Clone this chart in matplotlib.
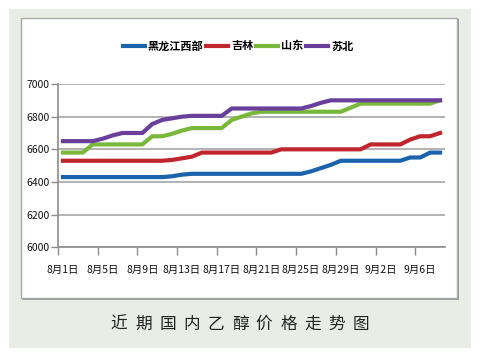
import matplotlib
matplotlib.use("Agg")
import matplotlib.pyplot as plt
from matplotlib.patches import Rectangle
from matplotlib.ticker import FixedLocator

plt.rcParams['font.family'] = ['Noto Sans CJK SC', 'DejaVu Sans']

# 数据 (8月1日 - 9月8日, 每天一个点)
heilongjiang = [6430] * 11 + [6435, 6445] + [6450] * 12 + [6465, 6485, 6505] \
    + [6530] * 7 + [6550, 6550, 6580, 6580]
jilin = [6530] * 11 + [6535, 6545, 6555] + [6580] * 8 + [6600] * 9 \
    + [6630] * 4 + [6660, 6680, 6680, 6700]
shandong = [6580] * 3 + [6630] * 6 + [6680, 6680, 6695, 6715] + [6730] * 4 \
    + [6780, 6800, 6820] + [6830] * 9 + [6855] + [6880] * 8 + [6900]
subei = [6650] * 4 + [6665, 6685] + [6700] * 3 + [6755, 6780, 6790, 6800] \
    + [6805] * 4 + [6850] * 8 + [6865, 6885] + [6900] * 12

series_names = ["黑龙江西部", "吉林", "山东", "苏北"]
series_colors = ["#1c63ae", "#c1262f", "#79b83b", "#6a3f9c"]

tick_labels = ["8月1日", "8月5日", "8月9日", "8月13日", "8月17日",
               "8月21日", "8月25日", "8月29日", "9月2日", "9月6日"]
y_ticks = [6000, 6200, 6400, 6600, 6800, 7000]
title = "近期国内乙醇价格走势图"

W, H = 483, 357
fig = plt.figure(figsize=(W / 100, H / 100), dpi=100)
fig.patch.set_facecolor("white")

def box(x0, y0, x1, y1, **kw):
    # 像素坐标 -> figure 坐标
    fig.patches.append(Rectangle((x0 / W, 1 - y1 / H), (x1 - x0) / W, (y1 - y0) / H,
                                 transform=fig.transFigure, figure=fig, zorder=-5, **kw))

box(9, 9, 471, 348, facecolor="#e8eee6", edgecolor="none")
box(22, 19, 459, 300, facecolor="#9a9a9a", edgecolor="none")
box(21, 18, 457, 298, facecolor="white", edgecolor="#a8a8a8", lw=1)

ax = fig.add_axes([58 / W, 1 - 247.3 / H, 387 / W, 163.3 / H])
ax.set_facecolor("none")

n = len(heilongjiang)
x = list(range(n))
for vals, name, c in zip([heilongjiang, jilin, shandong, subei], series_names, series_colors):
    ax.plot(x, vals, color=c, lw=3, label=name, solid_joinstyle="round")

ax.set_xlim(-0.5, n - 0.5)
ax.set_ylim(6000, 7000)
ax.set_yticks(y_ticks)
ax.set_yticklabels([str(v) for v in y_ticks], fontsize=7.5, color="#111111")
ax.yaxis.grid(True, color="#a6a6a6", lw=1.2)
ax.set_axisbelow(True)

ax.xaxis.set_major_locator(FixedLocator([i - 0.5 for i in range(0, n, 4)]))
ax.xaxis.set_minor_locator(FixedLocator([tick_labels.index(t) * 4 for t in tick_labels]))
ax.set_xticklabels([], minor=False)
ax.set_xticklabels(tick_labels, minor=True, fontsize=7.5, color="#111111")
ax.tick_params(axis="x", which="major", length=6, color="#8c8c8c", width=1)
ax.tick_params(axis="x", which="minor", length=0, pad=13)
ax.tick_params(axis="y", length=5, color="#8c8c8c", width=1, pad=1)

for s in ["top", "right"]:
    ax.spines[s].set_visible(False)
for s in ["left", "bottom"]:
    ax.spines[s].set_color("#8c8c8c")
    ax.spines[s].set_linewidth(1.2)

fig.legend(loc="center", bbox_to_anchor=(238 / W, 1 - 46 / H), ncol=4, frameon=False,
           handlelength=2.0, handletextpad=0.25, columnspacing=0.25,
           prop={"weight": "bold", "size": 8})

for i, ch in enumerate(title):
    fig.text((119 + i * 24.2) / W, 1 - 324 / H, ch, fontsize=12, color="#222222",
             ha="center", va="center")

fig.savefig("out.png", dpi=100)
